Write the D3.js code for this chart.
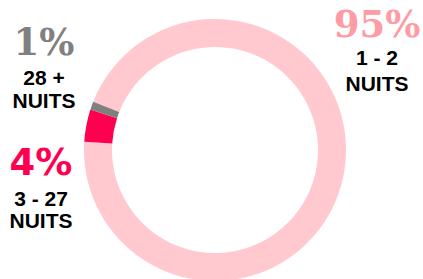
<!DOCTYPE html>
<html>
<head>
<meta charset="utf-8">
<script src="https://cdn.jsdelivr.net/npm/d3@7"></script>
<style>
  body { margin: 0; background: #fff; }
</style>
</head>
<body>
<div id="chart"></div>
<script>
// share of stays by length
var categories = ["1 - 2", "3 - 27", "28 +"];
var values = [95, 4, 1];
var pctLabels = ["95%", "4%", "1%"];
var colors = ["#ffc9cf", "#ff0050", "#808080"];
var pctColors = ["#ff9ba5", "#ff0050", "#808080"];

var width = 423, height = 279;
var cx = 215, cy = 150, outerR = 131, innerR = 103;

var svg = d3.select("#chart")
    .append("svg")
    .attr("width", width)
    .attr("height", height);

var pie = d3.pie()
    .sort(null)
    .value(d => d)
    .startAngle(-68.4 * Math.PI / 180)
    .endAngle((360 - 68.4) * Math.PI / 180);

var arc = d3.arc()
    .innerRadius(innerR)
    .outerRadius(outerR);

var g = svg.append("g")
    .attr("transform", "translate(" + cx + "," + cy + ")");

g.selectAll("path")
    .data(pie(values))
    .enter()
    .append("path")
    .attr("d", arc)
    .style("fill", (d, i) => colors[i]);

// label blocks: x, baselines of pct / category / NUITS
var labelPos = [
    {x: 377, y: [37, 65, 91], font: "DejaVu Serif"},
    {x: 41, y: [175, 206, 228], font: "DejaVu Sans"},
    {x: 44, y: [55, 85, 108], font: "DejaVu Serif"}
];

labelPos.forEach(function(p, i) {
    var t = svg.append("g").attr("transform", "translate(" + p.x + ",0)");
    t.append("text")
        .attr("y", p.y[0])
        .attr("text-anchor", "middle")
        .style("font-family", p.font)
        .style("font-weight", "bold")
        .style("font-size", "37px")
        .style("fill", pctColors[i])
        .text(pctLabels[i]);
    t.append("text")
        .attr("y", p.y[1])
        .attr("text-anchor", "middle")
        .style("font-family", "Liberation Sans")
        .style("font-weight", "bold")
        .style("font-size", "21px")
        .style("fill", "#000")
        .text(categories[i]);
    t.append("text")
        .attr("y", p.y[2])
        .attr("text-anchor", "middle")
        .style("font-family", "Liberation Sans")
        .style("font-weight", "bold")
        .style("font-size", "21px")
        .style("fill", "#000")
        .text("NUITS");
});
</script>
</body>
</html>
